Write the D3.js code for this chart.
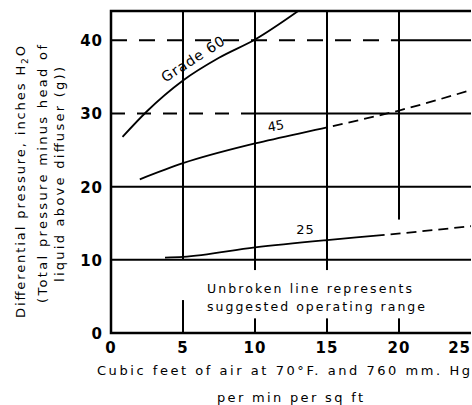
<!DOCTYPE html>
<html>
<head>
<meta charset="utf-8">
<script src="https://cdn.jsdelivr.net/npm/d3@7"></script>
<style>
  body { margin: 0; background: #fff; }
  text { font-family: "DejaVu Sans", sans-serif; fill: #000; }
</style>
</head>
<body>
<svg width="472" height="405"></svg>
<script>
// curve data (x: cu ft/min/sq ft, y: inches H2O)
const grade60X = [0.8, 2.5, 5, 7.5, 10, 13]
const grade60Y = [26.8, 30.3, 34.5, 37.6, 40.1, 44]
const grade45X = [2, 5, 10, 15, 20, 25]
const grade45Y = [21.0, 23.2, 25.9, 28.1, 30.4, 33.2]
const grade25X = [3.75, 5, 10, 15, 19, 25]
const grade25Y = [10.3, 10.4, 11.7, 12.7, 13.4, 14.6]
// where each curve stops being the suggested (unbroken) range
const solidUntil = { g60: 25, g45: 15, g25: 19 }

const xTicks = [0, 5, 10, 15, 20, 25]
const yTicks = [0, 10, 20, 30, 40]

const svg = d3.select('svg')
const margin = { top: 11, right: 1, bottom: 72, left: 111 }
const width = +svg.attr('width')
const height = +svg.attr('height')

const x = d3.scaleLinear().domain([0, 25]).range([margin.left, width - margin.right])
const y = d3.scaleLinear().domain([0, 44]).range([height - margin.bottom, margin.top])

const g = svg.append('g')

// grid: vertical lines
const vGrid = [5, 10, 15, 20]
g.selectAll('.vgrid').data(vGrid).join('line')
  .attr('x1', d => x(d)).attr('x2', d => x(d))
  .attr('y1', y(0)).attr('y2', y(44))
  .attr('stroke', '#000').attr('stroke-width', 2)

// white patches where the verticals break round the note
const patches = [
  [6.2, 20.8, 8.6, 2],
  [19, 21, 15.5, 8],
  [4, 6, 10, 4.5]
]
g.selectAll('.patch').data(patches).join('rect')
  .attr('x', d => x(d[0])).attr('y', d => y(d[2]))
  .attr('width', d => x(d[1]) - x(d[0])).attr('height', d => y(d[3]) - y(d[2]))
  .attr('fill', '#fff')

// horizontal lines: 10 and 20 solid, 30 and 40 partly dashed
const hGrid = [
  { v: 10, from: 0, to: 25, dash: null },
  { v: 20, from: 0, to: 25, dash: null },
  { v: 30, from: 0, to: 10, dash: '14,12' },
  { v: 30, from: 10, to: 25, dash: null },
  { v: 40, from: 0, to: 20, dash: '16,12' },
  { v: 40, from: 20, to: 25, dash: null }
]
g.selectAll('.hgrid').data(hGrid).join('line')
  .attr('x1', d => x(d.from)).attr('x2', d => x(d.to))
  .attr('y1', d => y(d.v)).attr('y2', d => y(d.v))
  .attr('stroke', '#000').attr('stroke-width', 2)
  .attr('stroke-dasharray', d => d.dash)

// frame
g.append('path')
  .attr('d', `M${x(25)},${y(44)}H${x(0)}V${y(0)}H${x(25)}`)
  .attr('fill', 'none').attr('stroke', '#000').attr('stroke-width', 2.5)

// curves
const line = d3.line().x(d => x(d[0])).y(d => y(d[1])).curve(d3.curveMonotoneX)
const curves = [
  { key: 'g60', xs: grade60X, ys: grade60Y },
  { key: 'g45', xs: grade45X, ys: grade45Y },
  { key: 'g25', xs: grade25X, ys: grade25Y }
]
curves.forEach(c => {
  const pts = c.xs.map((v, i) => [v, c.ys[i]])
  const lim = solidUntil[c.key]
  const path = g.append('path')
    .attr('d', line(pts))
    .attr('fill', 'none').attr('stroke', '#000').attr('stroke-width', 1.8)
  if (lim >= 25) return
  const node = path.node()
  const total = node.getTotalLength()
  // length along the path where x reaches lim
  let lo = 0, hi = total
  for (let k = 0; k < 30; k++) {
    const mid = (lo + hi) / 2
    if (node.getPointAtLength(mid).x < x(lim)) lo = mid; else hi = mid
  }
  path.attr('stroke-dasharray', [lo, 6].concat(d3.range(40).flatMap(() => [10, 6])).join(','))
})

// curve labels
g.append('text').attr('transform', `translate(${x(5.9)},${y(36.9)}) rotate(-33)`)
  .attr('text-anchor', 'middle').attr('font-size', 14).attr('letter-spacing', 1).text('Grade 60')
g.append('text').attr('transform', `translate(${x(11.5)},${y(27.7)}) rotate(-10)`)
  .attr('text-anchor', 'middle').attr('font-size', 13).text('45')
g.append('text').attr('transform', `translate(${x(13.5)},${y(13.5)})`)
  .attr('text-anchor', 'middle').attr('font-size', 13).attr('letter-spacing', 1).text('25')

// note
const note = g.append('text').attr('font-size', 12.5).attr('lengthAdjust', 'spacing')
note.append('tspan').attr('x', 207).attr('y', 293).attr('textLength', 205).text('Unbroken line represents')
note.append('tspan').attr('x', 207).attr('y', 311).attr('textLength', 218).text('suggested operating range')

// tick labels (last one pulled inside the edge)
g.selectAll('.xt').data(xTicks).join('text')
  .attr('x', d => d === 25 ? width - 1 : x(d)).attr('y', y(0) + 20)
  .attr('text-anchor', d => d === 25 ? 'end' : 'middle')
  .attr('font-size', 15).attr('font-weight', 'bold').attr('letter-spacing', 1)
  .text(d => d)
g.selectAll('.yt').data(yTicks).join('text')
  .attr('x', x(0) - 8).attr('y', d => y(d) + 6)
  .attr('text-anchor', 'end').attr('font-size', 15).attr('font-weight', 'bold').attr('letter-spacing', 1)
  .text(d => d)

// axis titles
const xt = g.append('text').attr('font-size', 13)
xt.append('tspan').attr('x', 97).attr('y', 375).attr('textLength', 373).text('Cubic feet of air at 70°F. and 760 mm. Hg')
xt.append('tspan').attr('x', 217).attr('y', 402).attr('textLength', 146).text('per min per sq ft')

const yt = g.append('g').attr('transform', 'translate(0,174) rotate(-90)')
  .append('text').attr('font-size', 13)
const l1 = yt.append('tspan').attr('x', -144).attr('y', 25).attr('textLength', 272).text('Differential pressure, inches H')
l1.append('tspan').attr('font-size', 9).attr('dy', 3).text('2')
l1.append('tspan').attr('dy', -3).text('O')
yt.append('tspan').attr('x', -129).attr('y', 47).attr('textLength', 258).text('(Total pressure minus head of')
yt.append('tspan').attr('x', -108).attr('y', 64).attr('textLength', 215).text('liquid above diffuser (g))')
</script>
</body>
</html>
